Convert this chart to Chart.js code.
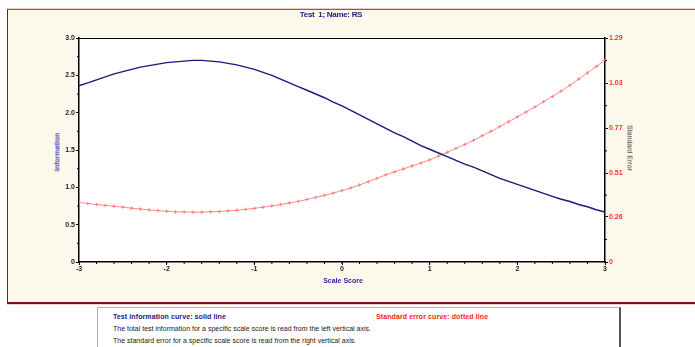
<!DOCTYPE html>
<html>
<head>
<meta charset="utf-8">
<script src="https://cdn.jsdelivr.net/npm/chart.js@4.4.1/dist/chart.umd.min.js"></script>
<style>
  body { margin: 0; width: 695px; height: 347px; overflow: hidden; background: #fff; font-family: "Liberation Sans", Arial, sans-serif; position: relative; }
  #panel { position: absolute; left: 7px; top: 9px; width: 800px; height: 292px; background: #fdf8ec;
           border-left: 1.5px solid #8b1414; border-top: 1.5px solid #b44a4a; border-bottom: 2px solid #7c0e0e;
           box-shadow: 0 -1px 0 #f0c8c8, 0 1px 0 #f3d0c8; }
  #chart { position: absolute; left: 0; top: 0; }
  .txt { position: absolute; white-space: nowrap; font-weight: bold; }
  #title { left: 0; width: 662px; text-align: center; top: 10px; font-size: 8px; color: #1a1a80; letter-spacing: -0.3px; }
  #ytitle { left: 57px; top: 152px; font-size: 7px; color: #4545b5; transform: translate(-50%, -50%) rotate(-90deg); }
  #y2title { left: 630px; top: 148px; font-size: 7px; color: #333; transform: translate(-50%, -50%) rotate(90deg); font-weight: normal; }
  #xtitle { left: 343px; top: 280px; font-size: 7px; color: #2a2aa0; transform: translate(-50%, -50%); }
  #note { position: absolute; left: 97px; top: 307px; width: 521px; height: 60px; background: #fff;
          border-top: 1px solid #b0b0b0; border-left: 1px solid #b0b0b0; border-right: 2px solid #555; }
  .n { position: absolute; white-space: nowrap; font-size: 7px; color: #222; letter-spacing: 0; }
</style>
</head>
<body>
<div id="panel"></div>
<div id="note">
  <div class="n" style="left:15px; top:5px; font-weight:bold; color:#1a1a80; letter-spacing:0.1px;">Test information curve: solid line</div>
  <div class="n" style="left:278px; top:5px; font-weight:bold; color:#ff2020; letter-spacing:0.1px;">Standard error curve: dotted line</div>
  <div class="n" style="left:15px; top:17px;">The total test information for a specific scale score is read from the left vertical axis.</div>
  <div class="n" style="left:15px; top:29px;">The standard error for a specific scale score is read from the right vertical axis.</div>
</div>
<canvas id="chart" width="695" height="347"></canvas>
<div class="txt" id="title">Test&nbsp;&nbsp;1; Name: RS</div>
<div class="txt" id="ytitle">Information</div>
<div class="txt" id="y2title">Standard Error</div>
<div class="txt" id="xtitle">Scale Score</div>
<script>
// scale scores (x)
const scaleScores = [
  -3.0, -2.9, -2.8, -2.7, -2.6, -2.5, -2.4, -2.3, -2.2, -2.1,
  -2.0, -1.9, -1.8, -1.7, -1.6, -1.5, -1.4, -1.3, -1.2, -1.1,
  -1.0, -0.9, -0.8, -0.7, -0.6, -0.5, -0.4, -0.3, -0.2, -0.1,
  0.0, 0.1, 0.2, 0.3, 0.4, 0.5, 0.6, 0.7, 0.8, 0.9,
  1.0, 1.1, 1.2, 1.3, 1.4, 1.5, 1.6, 1.7, 1.8, 1.9,
  2.0, 2.1, 2.2, 2.3, 2.4, 2.5, 2.6, 2.7, 2.8, 2.9, 3.0
];

// test information (left axis)
const information = [
  2.36, 2.40, 2.44, 2.48, 2.52, 2.55, 2.58, 2.61, 2.63, 2.65,
  2.67, 2.68, 2.69, 2.70, 2.70, 2.69, 2.68, 2.66, 2.64, 2.61,
  2.58, 2.54, 2.50, 2.45, 2.40, 2.35, 2.30, 2.25, 2.20, 2.14,
  2.09, 2.03, 1.97, 1.91, 1.85, 1.79, 1.73, 1.68, 1.62, 1.56,
  1.51, 1.46, 1.41, 1.36, 1.31, 1.27, 1.22, 1.17, 1.12, 1.08,
  1.04, 1.00, 0.96, 0.92, 0.88, 0.84, 0.81, 0.77, 0.74, 0.70, 0.67
];

// standard error (right axis)
const standardError = [
  0.343, 0.337, 0.331, 0.326, 0.321, 0.316, 0.310, 0.305, 0.300, 0.296,
  0.292, 0.289, 0.288, 0.287, 0.287, 0.289, 0.291, 0.294, 0.298, 0.303,
  0.309, 0.316, 0.323, 0.331, 0.340, 0.349, 0.360, 0.372, 0.384, 0.397,
  0.411, 0.427, 0.444, 0.462, 0.482, 0.502, 0.519, 0.536, 0.553, 0.570,
  0.588, 0.610, 0.632, 0.654, 0.677, 0.701, 0.727, 0.753, 0.780, 0.808,
  0.836, 0.864, 0.893, 0.923, 0.953, 0.984, 1.018, 1.053, 1.089, 1.126, 1.163
];

// tick labels
const infoTicks = [0, 0.5, 1.0, 1.5, 2.0, 2.5, 3.0];
const seTicks = [0, 0.26, 0.51, 0.77, 1.03, 1.29];
const scoreTicks = [-3, -2, -1, 0, 1, 2, 3];

const tickFont = { family: "'Liberation Sans', Arial, sans-serif", size: 7, weight: 'bold' };

// frame, white plot background and minor ticks
const frame = {
  id: 'frame',
  beforeDraw(chart) {
    const { ctx, chartArea: a } = chart;
    ctx.save();
    ctx.fillStyle = '#fff';
    ctx.fillRect(a.left, a.top, a.right - a.left, a.bottom - a.top);
    ctx.restore();
  },
  afterDraw(chart) {
    const { ctx, chartArea: a, scales } = chart;
    ctx.save();
    ctx.strokeStyle = '#000';
    ctx.lineWidth = 1;
    ctx.beginPath();
    ctx.moveTo(a.left, a.top + 0.5);
    ctx.lineTo(a.right, a.top + 0.5);
    ctx.stroke();
    ctx.beginPath();
    for (let i = 1; i < 30; i++) {
      const x = scales.x.getPixelForValue(-3 + i * 0.2);
      ctx.moveTo(x, a.bottom); ctx.lineTo(x, a.bottom + 2);
    }
    for (let i = 0; i < 6; i++) {
      const y = scales.y.getPixelForValue(0.25 + i * 0.5);
      ctx.moveTo(a.left, y); ctx.lineTo(a.left - 2, y);
    }
    for (let i = 0; i < seTicks.length - 1; i++) {
      const y = scales.y2.getPixelForValue((seTicks[i] + seTicks[i + 1]) / 2);
      ctx.moveTo(a.right, y); ctx.lineTo(a.right + 2, y);
    }
    ctx.stroke();
    ctx.restore();
  }
};

new Chart(document.getElementById('chart'), {
  type: 'line',
  data: {
    datasets: [{
      label: 'Information',
      data: scaleScores.map((x, i) => ({ x: x, y: information[i] })),
      yAxisID: 'y',
      borderColor: '#1a1a80',
      borderWidth: 1.4,
      pointRadius: 0,
      fill: false
    }, {
      label: 'Standard Error',
      data: scaleScores.map((x, i) => ({ x: x, y: standardError[i] })),
      yAxisID: 'y2',
      borderColor: '#ff8c8c',
      borderWidth: 1,
      pointStyle: 'cross',
      pointRadius: 1.8,
      pointBorderColor: '#ff7070',
      pointBorderWidth: 0.8,
      fill: false
    }]
  },
  options: {
    responsive: false,
    animation: false,
    devicePixelRatio: 1,
    layout: { padding: { top: 38, left: 0, right: 0, bottom: 0 } },
    plugins: { legend: { display: false }, tooltip: { enabled: false } },
    scales: {
      x: {
        type: 'linear', min: -3, max: 3,
        afterFit: s => { s.height = 85; },
        afterBuildTicks: s => { s.ticks = scoreTicks.map(v => ({ value: v })); },
        ticks: { font: tickFont, color: '#222', padding: 0, maxRotation: 0, callback: v => String(v) },
        grid: { drawOnChartArea: false, tickLength: 3, color: '#000' },
        border: { color: '#000', width: 1.5 }
      },
      y: {
        position: 'left', min: 0, max: 3,
        afterFit: s => { s.width = 79; },
        afterBuildTicks: s => { s.ticks = infoTicks.map(v => ({ value: v })); },
        ticks: { font: tickFont, color: '#222', padding: 1, callback: v => v === 0 ? '0' : v.toFixed(1) },
        grid: { drawOnChartArea: false, tickLength: 3, color: '#000' },
        border: { color: '#000', width: 1.5 }
      },
      y2: {
        position: 'right', min: 0, max: 1.29,
        afterFit: s => { s.width = 90; },
        afterBuildTicks: s => { s.ticks = seTicks.map(v => ({ value: v })); },
        ticks: { font: tickFont, color: '#ff3030', padding: 1, callback: v => v === 0 ? '0' : v.toFixed(2) },
        grid: { drawOnChartArea: false, tickLength: 3, color: '#000' },
        border: { color: '#000', width: 1.5 }
      }
    }
  },
  plugins: [frame]
});
</script>
</body>
</html>
